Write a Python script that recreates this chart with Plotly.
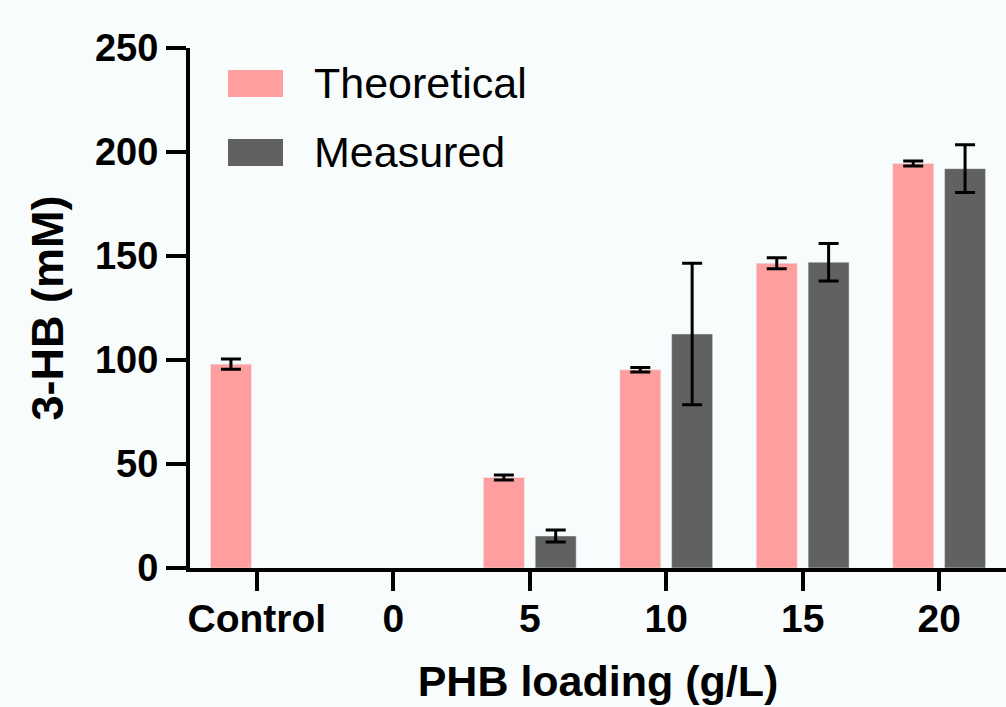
import plotly.graph_objects as go

categories = ["Control", "0", "5", "10", "15", "20"]
theoretical = [98, None, 43.5, 95.3, 146.5, 194.5]
theoretical_err = [2.5, None, 1.2, 1.1, 2.6, 1.2]
measured = [None, None, 15.4, 112.5, 147, 192]
measured_err = [None, None, 2.9, 34, 9, 11.5]
y_ticks = [0, 50, 100, 150, 200, 250]

W, H = 1006, 707
L, R, T, B = 190, 0, 48, 139
pw, ph = W - L - R, H - T - B

def px(x):
    return (x - L) / pw

def py(y):
    return (H - B - y) / ph

PINK = "#FF9E9E"
GREY = "#616161"
BG = "#F8FCFC"
FONT = "Arial, Liberation Sans, sans-serif"

fig = go.Figure()
fig.add_trace(go.Bar(
    x=categories, y=theoretical, name="Theoretical", marker_color=PINK,
    error_y=dict(type="data", array=theoretical_err, color="black", thickness=3, width=10),
    showlegend=False,
))
fig.add_trace(go.Bar(
    x=categories, y=measured, name="Measured", marker_color=GREY,
    error_y=dict(type="data", array=measured_err, color="black", thickness=3, width=10),
    showlegend=False,
))

# legend drawn manually to match large swatches
legend_items = [("Theoretical", PINK, 70, 97), ("Measured", GREY, 139, 166)]
for name, col, y0, y1 in legend_items:
    fig.add_shape(type="rect", xref="paper", yref="paper",
                  x0=px(228), x1=px(283), y0=py(y1), y1=py(y0),
                  fillcolor=col, line=dict(width=0))
    fig.add_annotation(xref="paper", yref="paper", x=px(312), y=py((y0 + y1) / 2),
                       text=name, showarrow=False, xanchor="left", yanchor="middle",
                       font=dict(family=FONT, size=43, color="black"))

fig.update_layout(
    width=W, height=H,
    margin=dict(l=L, r=R, t=T, b=B),
    paper_bgcolor=BG, plot_bgcolor=BG,
    barmode="group", bargap=0.24, bargroupgap=0.21,
    font=dict(family=FONT, color="black"),
)
fig.update_xaxes(
    type="category", range=[-0.49, 5.49],
    showline=True, linecolor="black", linewidth=4,
    ticks="outside", ticklen=19, tickwidth=4, tickcolor="black",
    ticklabelstandoff=-6,
    tickfont=dict(family=FONT, size=39, color="black", weight="bold"),
    showgrid=False, zeroline=False,
    title=dict(text="<b>PHB loading (g/L)</b>", font=dict(family=FONT, size=43, color="black"), standoff=28),
)
fig.update_yaxes(
    range=[0, 250], tickvals=y_ticks,
    showline=True, linecolor="black", linewidth=4,
    ticks="outside", ticklen=20, tickwidth=4, tickcolor="black",
    tickfont=dict(family=FONT, size=38, color="black", weight="bold"),
    showgrid=False, zeroline=False,
    title=dict(text="<b>3-HB (mM)</b>", font=dict(family=FONT, size=45, color="black"), standoff=18),
)

fig.write_html("out.html", config={"displayModeBar": False},
               post_script="document.body.style.margin='0';document.body.style.background='#F8FCFC';")
